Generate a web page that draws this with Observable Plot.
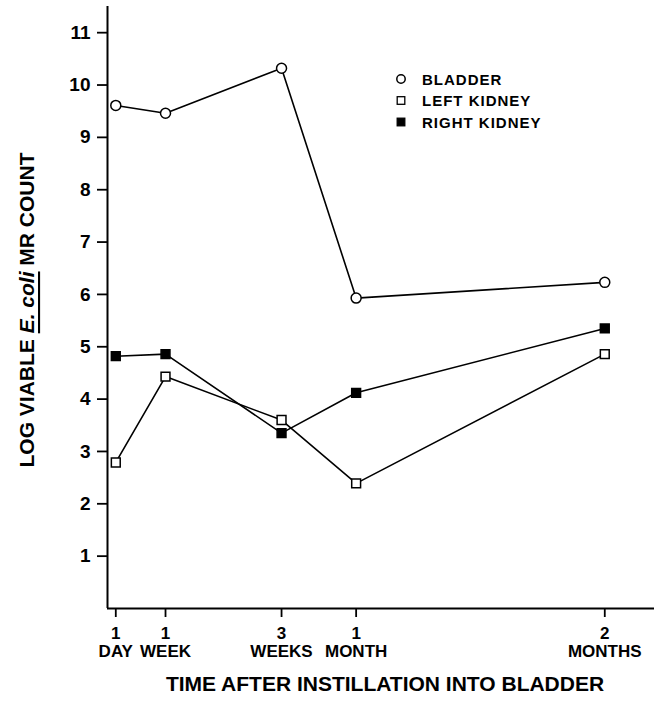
<!DOCTYPE html>
<html>
<head>
<meta charset="utf-8">
<script src="https://cdn.jsdelivr.net/npm/d3@7"></script>
<script src="https://cdn.jsdelivr.net/npm/@observablehq/plot@0.6"></script>
<style>
  body { margin: 0; background: #fff; }
  #chart { width: 657px; height: 702px; }
</style>
</head>
<body>
<div id="chart"></div>
<script>
// Time points (days after instillation) and their tick labels
const days = [1, 7, 21, 30, 60];
const timeNumbers = ["1", "1", "3", "1", "2"];
const timeUnits = ["DAY", "WEEK", "WEEKS", "MONTH", "MONTHS"];

// Series values (log viable E. coli MR count)
const seriesNames = ["BLADDER", "LEFT KIDNEY", "RIGHT KIDNEY"];
const bladder = [9.61, 9.46, 10.32, 5.93, 6.23];
const leftKidney = [2.79, 4.43, 3.60, 2.39, 4.86];
const rightKidney = [4.82, 4.86, 3.35, 4.12, 5.35];

const yTicks = [1, 2, 3, 4, 5, 6, 7, 8, 9, 10, 11];
const xLabel = "TIME AFTER INSTILLATION INTO BLADDER";

const seriesValues = [bladder, leftKidney, rightKidney];
const data = seriesNames.flatMap((name, s) =>
  days.map((d, i) => ({ series: name, day: d, value: seriesValues[s][i] }))
);

const FONT = '"Liberation Sans", Arial, Helvetica, sans-serif';

const chart = Plot.plot({
  width: 657,
  height: 702,
  marginLeft: 107,
  marginRight: 3,
  marginTop: 6,
  marginBottom: 94,
  style: { fontFamily: FONT, color: "#000", background: "#fff" },
  x: { domain: [0, 66] },
  y: { domain: [0, 11.5] },
  symbol: { domain: seriesNames, range: ["circle", "square", "square"] },
  color: { domain: seriesNames, range: ["#fff", "#fff", "#000"] },
  marks: [
    Plot.axisY(yTicks, {
      tickSize: 10, tickPadding: 7, fontSize: 19, fontWeight: "bold",
      strokeWidth: 1.8, label: null, tickFormat: (d) => String(d)
    }),
    Plot.axisX(days, {
      tickSize: 9, tickPadding: 8, fontSize: 17, fontWeight: "bold",
      lineHeight: 1.08, strokeWidth: 1.8, label: null,
      tickFormat: (d) => {
        const i = days.indexOf(d);
        return timeNumbers[i] + "\n" + timeUnits[i];
      }
    }),
    Plot.ruleX([0], { strokeWidth: 2 }),
    Plot.ruleY([0], { strokeWidth: 2 }),
    Plot.line(data, { x: "day", y: "value", z: "series", stroke: "#000", strokeWidth: 1.6 }),
    Plot.dot(data, {
      x: "day", y: "value", symbol: "series", fill: "series",
      r: 5, stroke: "#000", strokeWidth: 1.5
    }),
    Plot.text([xLabel], {
      frameAnchor: "bottom", dy: 82, dx: 4, fontSize: 21, fontWeight: "bold", fill: "#000"
    })
  ]
});

document.getElementById("chart").appendChild(chart);

const svg = d3.select(chart);

// Y axis title with italic, underlined "E. coli"
const yt = svg.append("text")
  .attr("transform", "translate(26,310) rotate(-90)")
  .attr("text-anchor", "middle")
  .attr("dominant-baseline", "central")
  .attr("fill", "#000")
  .style("font-family", FONT)
  .style("font-weight", "bold")
  .style("font-size", "21px");
yt.append("tspan").text("LOG VIABLE ");
yt.append("tspan").style("font-style", "italic").style("text-decoration", "underline").text("E. coli");
yt.append("tspan").text(" MR COUNT");

// Legend
const legendSymbols = ["circle", "open", "filled"];
const lg = svg.append("g").attr("transform", "translate(401,79)");
seriesNames.forEach((name, i) => {
  const row = lg.append("g").attr("transform", `translate(0,${i * 21.5})`);
  if (legendSymbols[i] === "circle") {
    row.append("circle").attr("r", 4.2).attr("fill", "#fff").attr("stroke", "#000").attr("stroke-width", 1.5);
  } else {
    row.append("rect").attr("x", -3.8).attr("y", -3.8).attr("width", 7.6).attr("height", 7.6)
      .attr("fill", legendSymbols[i] === "filled" ? "#000" : "#fff")
      .attr("stroke", "#000").attr("stroke-width", 1.3);
  }
  row.append("text")
    .attr("x", 21)
    .attr("text-anchor", "start")
    .attr("dominant-baseline", "central")
    .attr("fill", "#000")
    .style("font-family", FONT)
    .style("font-weight", "bold")
    .style("font-size", "15px")
    .style("letter-spacing", "1px")
    .text(name);
});
</script>
</body>
</html>
